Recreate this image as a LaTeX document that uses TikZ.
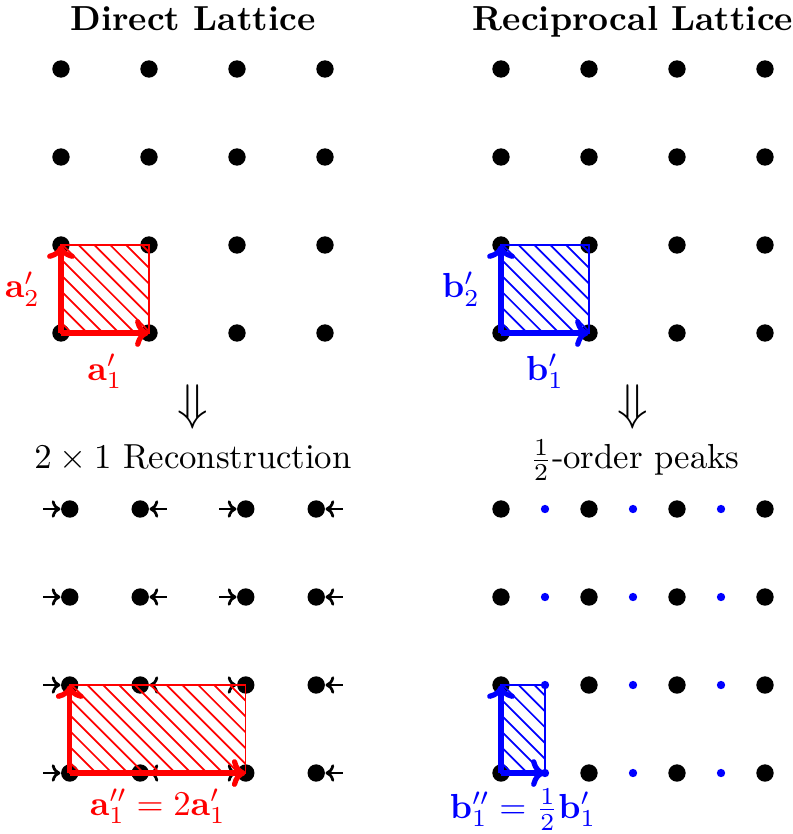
\documentclass[tikz,border=0pt]{standalone}
\usepackage{amsmath, amssymb}
\usepackage{tikz}
\usetikzlibrary{arrows.meta,calc,positioning}

\begin{document}
\begin{tikzpicture}[x=0.89cm,y=0.89cm,
    dot/.style={circle,fill=black,inner sep=0pt,minimum size=5pt},
    halfdot/.style={circle,fill=blue,inner sep=0pt,minimum size=2.4pt},
    vec/.style={line width=1.5pt,-{To[length=4pt,width=8pt]}},
    push/.style={thick,-{To[length=2.5pt,width=5pt]}}]
        \useasboundingbox (-0.693,-5.693) rectangle (8.318,3.784);
        %Titles
        \node[font=\bfseries,anchor=base] (tdir) at (1.5,3.44) {Direct Lattice};
        \node[font=\bfseries,anchor=base] (trec) at (6.5,3.44) {Reciprocal Lattice};
        %Lattice points
        \foreach \i in {0,...,3}
          \foreach \j in {0,...,3}{
            \node[dot] (d-\i-\j) at (\i,\j) {};
            \node[dot] (r-\i-\j) at (5+\i,\j) {};
            \node[dot] (p-\i-\j) at (5+\i,\j-5) {};
          }
        %Reconstructed surface: pairs move together
        \foreach \j in {0,...,3}
          \foreach \i/\s in {0/1,1/-1,2/1,3/-1}{
            \node[dot] (s-\i-\j) at (\i+0.1*\s,\j-5) {};
            \coordinate (o-\i-\j) at (\i-0.2*\s,\j-5);
            \draw[push] (o-\i-\j) -- (s-\i-\j);
          }
        %Half-order peaks
        \foreach \i in {0,1,2}
          \foreach \j in {0,...,3}
            \node[halfdot] (h-\i-\j) at (5.5+\i,\j-5) {};
        %Unit cells (hatched)
        \foreach \col/\lo/\hi in {red/d-0-0/d-1-1,blue/r-0-0/r-1-1,red/s-0-0/s-2-1,blue/p-0-0/h-0-1}{
          \begin{scope}
            \clip (\lo.center) rectangle (\hi.center);
            \foreach \k in {-8,...,13}
              \draw[\col,line width=0.5pt] ($(\lo.center)+(\k*0.18,1.2)$) -- ++(2.4,-2.4);
          \end{scope}
          \draw[\col,thin] (\lo.center) rectangle (\hi.center);
        }
        %Vectors
        \draw[vec,red] (d-0-0.center) -- node[below=2pt] (la1) {$\mathbf{a}'_1$} (d-1-0.center);
        \draw[vec,red] (d-0-0.center) -- node[left=2pt] (la2) {$\mathbf{a}'_2$} (d-0-1.center);
        \draw[vec,blue] (r-0-0.center) -- node[below=2pt] (lb1) {$\mathbf{b}'_1$} (r-1-0.center);
        \draw[vec,blue] (r-0-0.center) -- node[left=2pt] (lb2) {$\mathbf{b}'_2$} (r-0-1.center);
        \draw[vec,red] (s-0-0.center) -- node[below=0.5pt] (laa) {$\mathbf{a}''_1 = 2\mathbf{a}'_1$} (s-2-0.center);
        \draw[vec,red] (s-0-0.center) -- (s-0-1.center);
        \draw[vec,blue] (p-0-0.center) -- node[below=0.5pt] (lbb) {$\mathbf{b}''_1 = \frac{1}{2}\mathbf{b}'_1$} (h-0-0.center);
        \draw[vec,blue] (p-0-0.center) -- (p-0-1.center);
        %Down arrows and captions
        \node[font=\Large] (dl) at (1.5,-0.84) {$\Downarrow$};
        \node[font=\Large] (dr) at (6.5,-0.84) {$\Downarrow$};
        \node[anchor=base] (crec) at (1.5,-1.545) {$2\times1$ Reconstruction};
        \node[anchor=base] (chalf) at (6.52,-1.545) {$\frac{1}{2}$-order peaks};
      \end{tikzpicture}
\end{document}
